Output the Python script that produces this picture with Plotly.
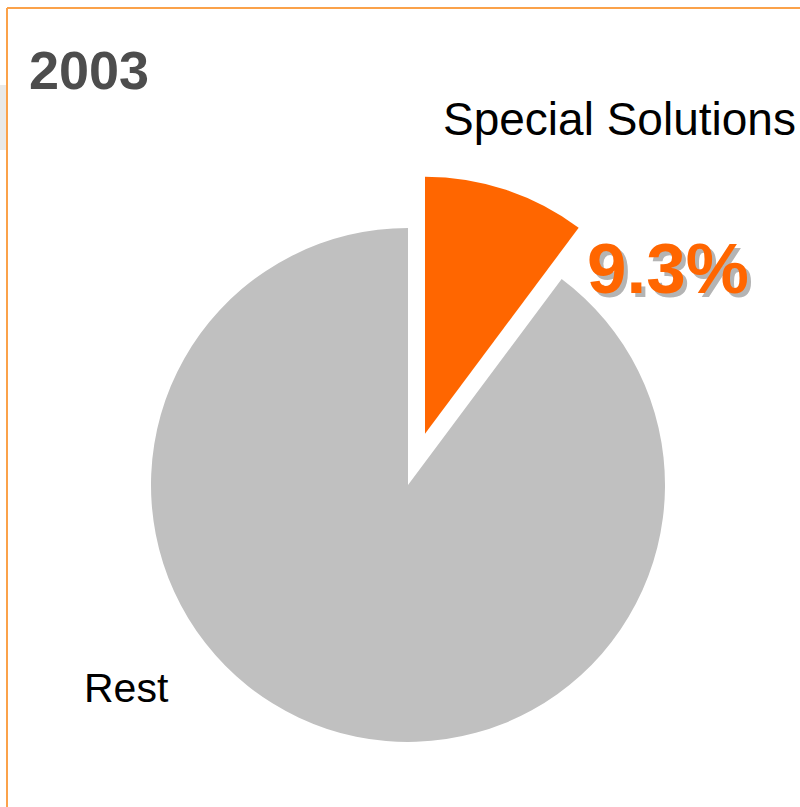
import plotly.graph_objects as go

labels = ["Special Solutions", "Rest"]
values = [10.2, 89.8]   # slice sizes as drawn in the picture
colors = ["#FF6600", "#C0C0C0"]
pulls = [0.21, 0.0]
year = "2003"
highlight = "9.3%"

W, H = 800, 807

def px(x):
    return x / W

def py(y):
    return 1 - y / H

# pie center (408,485), radius 257, pull 0.21 -> half-size 257*1.21
cx, cy, r = 408, 485, 257
half = r * (1 + max(pulls))

fig = go.Figure(go.Pie(
    labels=labels, values=values, sort=False, direction="clockwise", rotation=0,
    marker=dict(colors=colors, line=dict(width=0)), pull=pulls,
    textinfo="none", hoverinfo="label", showlegend=False,
    domain=dict(x=[px(cx - half), px(cx + half)], y=[py(cy + half), py(cy - half)]),
))

font_main = "Liberation Sans, Arial, sans-serif"
ann = []
ann.append(dict(text=year, x=px(27), y=py(70), xanchor="left", yanchor="middle",
                font=dict(family=font_main, size=54, color="#4D4D4D", weight="bold")))
ann.append(dict(text=labels[0], x=px(441), y=py(119), xanchor="left", yanchor="middle",
                font=dict(family=font_main, size=46, color="#000000")))
ann.append(dict(text=labels[1], x=px(82), y=py(688), xanchor="left", yanchor="middle",
                font=dict(family=font_main, size=41, color="#000000")))
ann.append(dict(text=highlight, x=px(585), y=py(268), xanchor="left", yanchor="middle",
                font=dict(family=font_main, size=71, color="#FF6600", weight="bold",
                          shadow="4px 4px 0px #B4B4B4")))
for a in ann:
    a.update(xref="paper", yref="paper", showarrow=False)

shapes = [
    dict(type="rect", xref="paper", yref="paper", x0=0, x1=px(6), y0=py(150), y1=py(85),
         fillcolor="#E9E9E9", line=dict(width=0), layer="below"),
    dict(type="line", xref="paper", yref="paper", x0=px(7), x1=px(7), y0=py(8), y1=0,
         line=dict(color="#FBA24A", width=2)),
    dict(type="line", xref="paper", yref="paper", x0=px(7), x1=1, y0=py(8), y1=py(8),
         line=dict(color="#FBA24A", width=2)),
]

fig.update_layout(width=W, height=H, margin=dict(l=0, r=0, t=0, b=0),
                  paper_bgcolor="white", plot_bgcolor="white",
                  annotations=ann, shapes=shapes)
fig.write_html("out.html")
